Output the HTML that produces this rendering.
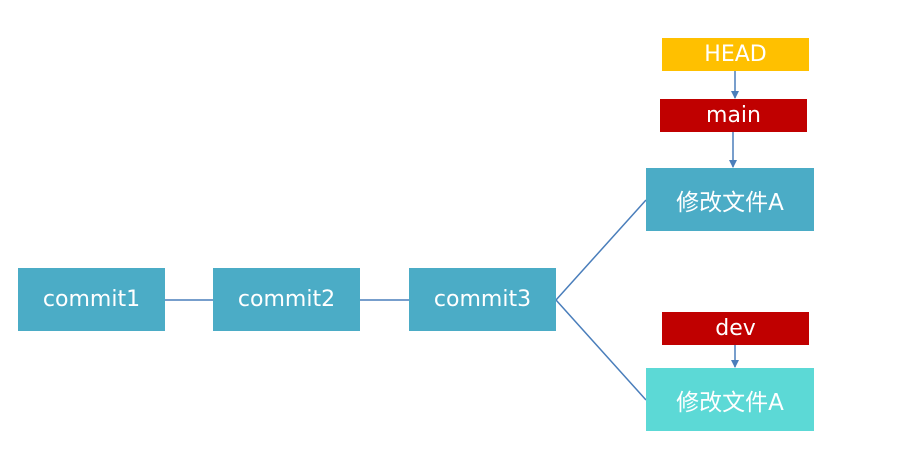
<!DOCTYPE html>
<html><head><meta charset="utf-8"><style>
body{margin:0;width:915px;height:469px;background:#fff;position:relative;overflow:hidden;font-family:"DejaVu Sans","Noto Sans CJK SC",sans-serif}
.b{position:absolute;color:#fff;display:flex;align-items:center;justify-content:center;font-size:22px}
</style></head><body>
<svg width="915" height="469" style="position:absolute;left:0;top:0">
<defs><marker id="a" markerWidth="8" markerHeight="8" refX="7" refY="4" orient="auto" markerUnits="userSpaceOnUse"><path d="M0,0L8,4L0,8z" fill="#4a7ebb"/></marker></defs>
<g stroke="#4a7ebb" stroke-width="1.5" fill="none">
<line x1="165" y1="300" x2="213" y2="300"/>
<line x1="360" y1="300" x2="409" y2="300"/>
<line x1="556" y1="300" x2="646" y2="200"/>
<line x1="556" y1="300" x2="646" y2="400"/>
<line x1="735" y1="71" x2="735" y2="98" marker-end="url(#a)"/>
<line x1="733" y1="132" x2="733" y2="167" marker-end="url(#a)"/>
<line x1="735" y1="345" x2="735" y2="367" marker-end="url(#a)"/>
</g></svg>
<div class="b" style="left:18px;top:268px;width:147px;height:63px;background:#4bacc6">commit1</div>
<div class="b" style="left:213px;top:268px;width:147px;height:63px;background:#4bacc6">commit2</div>
<div class="b" style="left:409px;top:268px;width:147px;height:63px;background:#4bacc6">commit3</div>
<div class="b" style="left:646px;top:168px;width:168px;height:63px;background:#4bacc6;font-size:23px">修改文件A</div>
<div class="b" style="left:646px;top:368px;width:168px;height:63px;background:#5cd9d6;font-size:23px">修改文件A</div>
<div class="b" style="left:662px;top:38px;width:147px;height:33px;background:#ffc000">HEAD</div>
<div class="b" style="left:660px;top:99px;width:147px;height:33px;background:#c00000">main</div>
<div class="b" style="left:662px;top:312px;width:147px;height:33px;background:#c00000">dev</div>
</body></html>
